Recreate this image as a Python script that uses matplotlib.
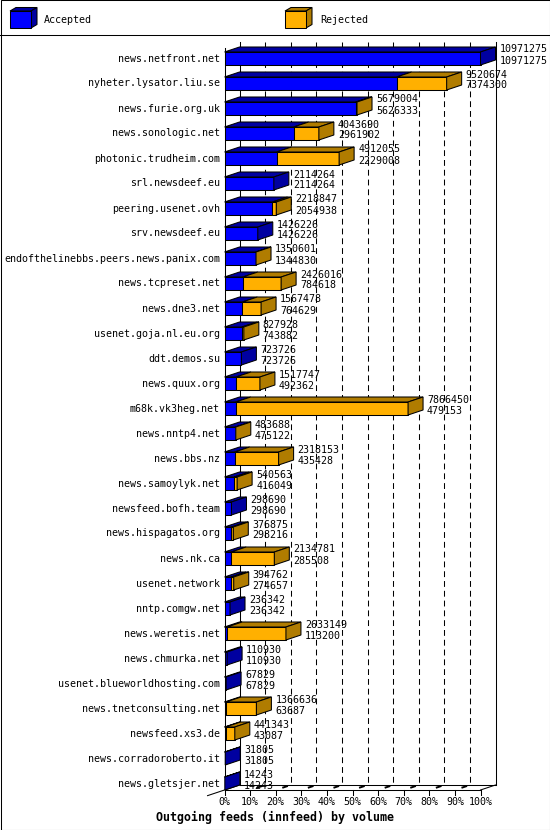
import matplotlib
matplotlib.use('Agg')
import matplotlib.pyplot as plt
from matplotlib.patches import Polygon, Rectangle

# innfeed outgoing volume per peer
hosts = ['news.netfront.net', 'nyheter.lysator.liu.se', 'news.furie.org.uk',
         'news.sonologic.net', 'photonic.trudheim.com', 'srl.newsdeef.eu',
         'peering.usenet.ovh', 'srv.newsdeef.eu',
         'endofthelinebbs.peers.news.panix.com', 'news.tcpreset.net',
         'news.dne3.net', 'usenet.goja.nl.eu.org', 'ddt.demos.su',
         'news.quux.org', 'm68k.vk3heg.net', 'news.nntp4.net', 'news.bbs.nz',
         'news.samoylyk.net', 'newsfeed.bofh.team', 'news.hispagatos.org',
         'news.nk.ca', 'usenet.network', 'nntp.comgw.net', 'news.weretis.net',
         'news.chmurka.net', 'usenet.blueworldhosting.com',
         'news.tnetconsulting.net', 'newsfeed.xs3.de',
         'news.corradoroberto.it', 'news.gletsjer.net']
offered = [10971275, 9520674, 5679004, 4043690, 4912055, 2114264, 2218847,
           1426226, 1350601, 2426016, 1567478, 827928, 723726, 1517747,
           7866450, 483688, 2318153, 540563, 298690, 376875, 2134781, 394762,
           236342, 2633149, 110930, 67829, 1366636, 441343, 31805, 14243]
accepted = [10971275, 7374300, 5626333, 2961902, 2229008, 2114264, 2054938,
            1426226, 1344830, 784618, 764629, 743882, 723726, 492362,
            479153, 475122, 435428, 416049, 298690, 298216, 285508, 274657,
            236342, 113200, 110930, 67829, 63687, 43087, 31805, 14243]
pct_ticks = [0, 10, 20, 30, 40, 50, 60, 70, 80, 90, 100]
series = ['Accepted', 'Rejected']

BLUE, BLUE_D = '#0000ff', '#0000a0'
ORANGE, ORANGE_D = '#ffb000', '#b07c00'
FONT = 'DejaVu Sans Mono'
FS = 7.2
LW = 0.75

W, H = 550, 830
fig = plt.figure(figsize=(W / 100, H / 100), dpi=100)

# full figure axes in pixels, for frame / legend / title
bg = fig.add_axes([0, 0, 1, 1])
bg.set_xlim(0, W)
bg.set_ylim(H, 0)
bg.axis('off')

x0_px, x1_px = 224.5, 480.5
top_px, floor_px = 40, 790
row_px, first_px = 25, 58.5
ax = fig.add_axes([x0_px / W, 1 - floor_px / H, (x1_px - x0_px) / W,
                   (floor_px - top_px) / H])
vmax = max(offered)
ax.set_xlim(0, vmax)
floor = (floor_px - first_px) / row_px
ax.set_ylim(floor, -(first_px - top_px) / row_px)
ax.axis('off')

dx = vmax * 15 / (x1_px - x0_px)   # depth in data units
dy = 5 / row_px
half = 6.5 / row_px


def poly(a, pts, fc, z=3):
    a.add_patch(Polygon(pts, closed=True, fc=fc, ec='black', lw=LW,
                        clip_on=False, zorder=z, joinstyle='miter'))


# back plane grid
ytop_back = -(first_px - 42) / row_px
for p in pct_ticks:
    xv = p * vmax / 100 + dx
    ls = '-' if p in (0, 100) else (0, (5.6, 3.8))
    ax.plot([xv, xv], [ytop_back, floor - dy], color='black', lw=LW,
            ls=ls, clip_on=False, zorder=1)

# floor and front axis
ax.plot([0, 0], [-(first_px - 48) / row_px, floor], color='black', lw=LW,
        clip_on=False, zorder=1)
ax.plot([0, vmax], [floor, floor], color='black', lw=LW, clip_on=False, zorder=1)
ax.plot([dx, vmax + dx], [floor - dy, floor - dy], color='black', lw=LW,
        clip_on=False, zorder=1)
ax.plot([vmax, vmax + dx], [floor, floor - dy], color='black', lw=LW,
        clip_on=False, zorder=1)
ax.plot([-1.13 * dx, dx], [floor + 1.13 * dy, floor - dy], color='black',
        lw=LW, clip_on=False, zorder=1)
for p in pct_ticks:
    xv = p * vmax / 100
    ax.plot([xv, xv], [floor, floor + dy], color='black', lw=LW,
            clip_on=False, zorder=1)
    if 0 < p < 100:
        ax.plot([xv + 0.5 * dx, xv + 0.75 * dx], [floor - 0.5 * dy, floor - 0.75 * dy],
                color='black', lw=1.4, clip_on=False, zorder=1)
    ax.text(xv, (802 - first_px) / row_px, f'{p}%', ha='center', va='center',
            family=FONT, fontsize=FS)

# bars
for i, (host, off, acc) in enumerate(zip(hosts, offered, accepted)):
    yt, yb = i - half, i + half
    segs = [(0, acc, BLUE, BLUE_D), (acc, off, ORANGE, ORANGE_D)]
    last_dark = BLUE_D
    for s0, s1, fc, dc in segs:
        if s1 <= s0:
            continue
        ax.add_patch(Rectangle((s0, yt), s1 - s0, yb - yt, fc=fc, ec='black',
                               lw=LW, clip_on=False, zorder=3))
        poly(ax, [(s0, yt), (s1, yt), (s1 + dx, yt - dy), (s0 + dx, yt - dy)], dc)
        last_dark = dc
    poly(ax, [(off, yt), (off + dx, yt - dy), (off + dx, yb - dy), (off, yb)],
         last_dark)

    ax.annotate(host, (0, i), xytext=(-4.5, 0), textcoords='offset pixels',
                ha='right', va='center', family=FONT, fontsize=FS,
                annotation_clip=False)
    ax.annotate(str(off), (off + dx, i), xytext=(4, 9),
                textcoords='offset pixels', ha='left', va='center',
                family=FONT, fontsize=FS, annotation_clip=False, zorder=5)
    ax.annotate(str(acc), (off + dx, i), xytext=(4, -2),
                textcoords='offset pixels', ha='left', va='center',
                family=FONT, fontsize=FS, annotation_clip=False, zorder=5)

# frame, legend
bg.add_patch(Rectangle((0.5, 0.5), W - 1, H - 1, fill=False, ec='black', lw=LW))
bg.plot([0, W], [35.5, 35.5], color='black', lw=LW)
for (lx, tx), name, fc, dc in zip([(10, 44), (285, 320)], series,
                                  [BLUE, ORANGE], [BLUE_D, ORANGE_D]):
    bx, by, bw, bh, d, e = lx, 11, 21, 17, 6, 3.5
    poly(bg, [(bx, by), (bx + bw, by), (bx + bw + d, by - e), (bx + d, by - e)], dc)
    poly(bg, [(bx + bw, by), (bx + bw + d, by - e), (bx + bw + d, by + bh - e),
              (bx + bw, by + bh)], dc)
    poly(bg, [(bx, by), (bx + bw, by), (bx + bw, by + bh), (bx, by + bh)], fc)
    bg.text(tx, 20, name, ha='left', va='center', family=FONT, fontsize=FS)

bg.text(156, 817, 'Outgoing feeds (innfeed) by volume', ha='left', va='center',
        family=FONT, fontsize=8.4, fontweight='bold')

fig.savefig('out.png', dpi=100)
